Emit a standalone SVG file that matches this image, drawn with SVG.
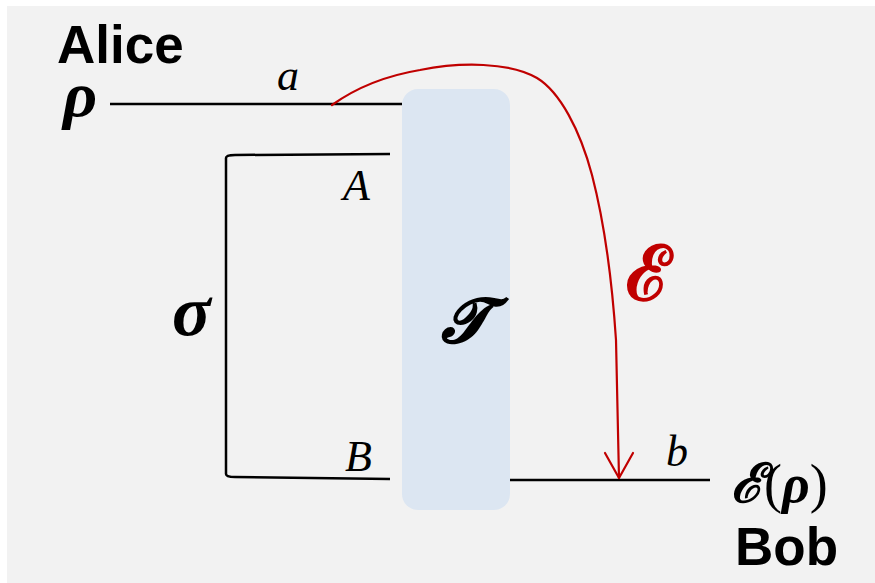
<svg xmlns="http://www.w3.org/2000/svg" width="875" height="583" viewBox="0 0 875 583">
<style>
.wire{stroke:#000;stroke-width:2.5;fill:none}
.red{stroke:#c00000;stroke-width:2.2;fill:none;stroke-linecap:round;stroke-linejoin:round}
.name{font-family:"Liberation Sans",Arial,sans-serif;font-weight:bold;font-size:53px;fill:#000}
.lab{font-family:"Liberation Serif","Times New Roman",serif;font-style:italic;font-size:44px;fill:#000}
.math{font-family:"Liberation Serif","DejaVu Serif",serif;font-style:italic;font-weight:bold;fill:#000}
</style>
<rect x="7" y="6" width="868" height="577" fill="#f2f2f2"/>
<g id="alice">
<text class="name" x="57" y="63">Alice</text>
<text class="math" x="63" y="116" font-size="58" transform="translate(63 116) scale(1.15 1.1) translate(-63 -116)">ρ</text>
</g>
<g id="T">
<rect x="402" y="89" width="108" height="421" rx="16" fill="#dce6f2"/>
<text class="math" x="464" y="342" font-size="62" text-anchor="middle" font-family="DejaVu Serif">𝓣</text>
</g>
<g id="sigma">
<text class="math" x="172" y="335" font-size="72">σ</text>
</g>
<g id="bob">
<text class="math" x="731" y="502" font-size="54" font-style="normal" font-family="DejaVu Serif">ℰ<tspan font-style="normal" font-weight="normal" font-family="Liberation Serif">(</tspan><tspan font-style="italic">ρ</tspan><tspan font-style="normal" font-weight="normal" font-family="Liberation Serif">)</tspan></text>
<text class="name" x="735" y="565">Bob</text>
</g>
<g id="connectors">
<path class="wire" d="M110,104 H402"/>
<path class="wire" d="M390,154 L235,155 Q226,155 226,158 V474 Q226,477 235,477 L390,479"/>
<path class="wire" d="M510,480 H710"/>
<path class="red" d="M332,105 C360,85 390,75 420,70 C460,62 510,62 537,78 C560,92 580,130 592,175 C605,225 612,280 616,340 L619,478"/>
<path class="red" d="M605,453 L619,478 L633,453"/>
</g>
<g id="labels">
<text class="lab" x="277" y="90">a</text>
<text class="lab" x="343" y="200">A</text>
<text class="lab" x="345" y="471">B</text>
<text class="lab" x="666" y="466">b</text>
<text x="626" y="300" font-family="DejaVu Serif" font-weight="bold" font-size="76" fill="#c00000">ℰ</text>
</g>
</svg>
